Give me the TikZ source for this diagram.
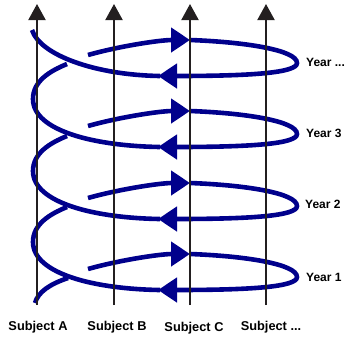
\documentclass[tikz,border=0pt]{standalone}
\usepackage{fontspec}
\setmainfont{Liberation Sans}
\usepackage{xcolor}
\usetikzlibrary{arrows.meta}
\definecolor{coilblue}{RGB}{0,0,140}
\definecolor{axisblack}{RGB}{35,31,32}

\begin{document}
\begin{tikzpicture}[x=1pt,y=-1pt,
        coil/.style={coilblue, line width=4.6pt},
        coiltip/.style={coil, -{Triangle[length=19pt,width=24pt]}},
        axis/.style={axisblack, line width=2pt, -{Triangle[length=16pt,width=17pt]}},
        lab/.style={font=\fontsize{12}{14}\selectfont\bfseries, inner sep=0pt},
        sublab/.style={lab, font=\fontsize{12.8}{14}\selectfont\bfseries}]
            \useasboundingbox (0,0) rectangle (353,338);
            % Year 1
            \draw[coil] (35,303) .. controls (38,292) and (50,284) .. (68,278);
            \draw[coiltip] (88,269) .. controls (120,260) and (160,254) .. (190,254);
            \draw[coiltip] (190,254) .. controls (245,256) and (297,264) .. (297,277)
                .. controls (297,287) and (250,290) .. (158,290);
            \draw[coil] (160,290) .. controls (95,289) and (33,274) .. (33,242)
                .. controls (33,224) and (50,214) .. (67,207);
            % Year 2
            \draw[coiltip] (88,198) .. controls (120,189) and (160,183) .. (190,183);
            \draw[coiltip] (190,183) .. controls (245,185) and (297,193) .. (297,206)
                .. controls (297,216) and (250,219) .. (158,219);
            \draw[coil] (160,219) .. controls (95,218) and (33,203) .. (33,171)
                .. controls (33,153) and (50,143) .. (67,136);
            % Year 3
            \draw[coiltip] (88,126) .. controls (120,117) and (160,111) .. (190,111);
            \draw[coiltip] (190,111) .. controls (245,113) and (297,121) .. (297,134)
                .. controls (297,144) and (250,147) .. (158,147);
            \draw[coil] (160,147) .. controls (95,146) and (33,131) .. (33,99)
                .. controls (33,81) and (50,71) .. (67,64);
            % Year ...
            \draw[coiltip] (88,55) .. controls (120,46) and (160,40) .. (190,40);
            \draw[coiltip] (190,40) .. controls (245,42) and (297,50) .. (297,63)
                .. controls (297,73) and (250,76) .. (158,76);
            \draw[coil] (160,76) .. controls (95,75) and (40,55) .. (32,30);
            % subjects
            \coordinate (bA) at (37,305);  \coordinate (tA) at (37,4);
            \coordinate (bB) at (114,305); \coordinate (tB) at (114,4);
            \coordinate (bC) at (190,305); \coordinate (tC) at (190,4);
            \coordinate (bD) at (266,305); \coordinate (tD) at (266,4);
            \draw[axis] (bA) -- (tA);
            \draw[axis] (bB) -- (tB);
            \draw[axis] (bC) -- (tC);
            \draw[axis] (bD) -- (tD);
            \node[sublab] (subjA) at (38,327) {Subject A};
            \node[sublab] (subjB) at (117,327) {Subject B};
            \node[sublab] (subjC) at (194,328) {Subject C};
            \node[sublab] (subjD) at (271,327) {Subject ...};
            % years
            \node[lab, anchor=west] (yr1) at (306,277) {Year 1};
            \node[lab, anchor=west] (yr2) at (305,204) {Year 2};
            \node[lab, anchor=west] (yr3) at (306,133) {Year 3};
            \node[lab, anchor=west] (yrN) at (306,62) {Year ...};
        \end{tikzpicture}
\end{document}
